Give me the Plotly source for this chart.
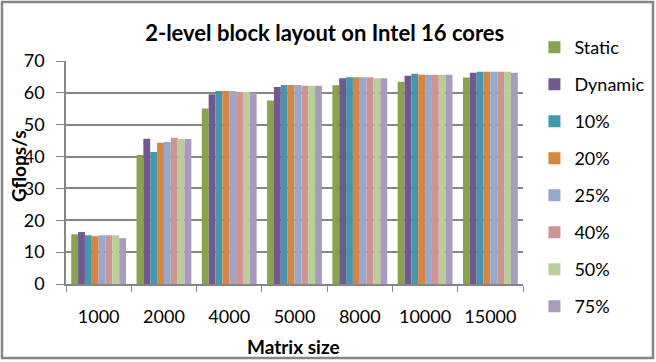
import plotly.graph_objects as go

sizes = ["1000", "2000", "4000", "5000", "8000", "10000", "15000"]
series_names = ["Static", "Dynamic", "10%", "20%", "25%", "40%", "50%", "75%"]

static = [15.6, 40.5, 55.1, 57.6, 62.4, 63.5, 64.8]
dynamic = [16.3, 45.6, 59.6, 61.8, 64.6, 65.4, 66.3]
p10 = [15.3, 41.4, 60.6, 62.5, 64.9, 66.0, 66.6]
p20 = [15.0, 44.3, 60.6, 62.5, 64.9, 65.7, 66.6]
p25 = [15.3, 44.6, 60.6, 62.5, 64.9, 65.7, 66.6]
p40 = [15.3, 45.9, 60.3, 62.2, 64.9, 65.7, 66.6]
p50 = [15.3, 45.5, 60.3, 62.2, 64.6, 65.7, 66.6]
p75 = [14.4, 45.5, 60.0, 62.2, 64.6, 65.7, 66.3]

colors = ["#88A44B", "#71588F", "#4198AF", "#DB843D",
          "#93A9CF", "#D19392", "#B9CD96", "#A99BBD"]

FONT = "Lato, Open Sans, sans-serif"
GREY = "#868686"

fig = go.Figure()
for name, vals, col in zip(series_names,
                           [static, dynamic, p10, p20, p25, p40, p50, p75],
                           colors):
    fig.add_trace(go.Bar(x=sizes, y=vals, name=name, marker_color=col,
                         marker_line_width=0, legendgroup=name))

fig.update_layout(
    width=656, height=362,
    margin=dict(l=66, r=133, t=61, b=78, autoexpand=False),
    paper_bgcolor="white", plot_bgcolor="white",
    barmode="group", bargap=0.16, bargroupgap=0,
    font=dict(family=FONT, size=18, color="black"),
    title=dict(text="<b>2-level block layout on Intel 16 cores</b>",
               x=0.495, xanchor="center", y=1 - 33 / 362, yanchor="middle",
               font=dict(size=22)),
    legend=dict(x=1.025, xanchor="left", y=1 + 32 / 223, yanchor="top",
                tracegroupgap=10.6, itemwidth=30, font=dict(size=18),
                maxheight=1),
    showlegend=True,
)
fig.update_xaxes(
    showline=True, linecolor=GREY, linewidth=1.5, automargin=False,
    ticks="outside", tickson="boundaries", ticklen=6, tickcolor=GREY,
    showgrid=False, tickfont=dict(size=18), ticklabelstandoff=16,
)
fig.update_yaxes(
    range=[0, 70], dtick=10, automargin=False,
    showline=True, linecolor=GREY, linewidth=1.5,
    ticks="outside", ticklen=8, tickcolor=GREY,
    showgrid=True, gridcolor=GREY, gridwidth=1.5, tickfont=dict(size=18),
    ticklabelstandoff=8,
)

# axis titles
fig.add_annotation(text="<b>Matrix size</b>", xref="paper", yref="paper",
                   x=(293 - 66) / 457, y=-(346 - 284) / 223,
                   showarrow=False, font=dict(size=19),
                   xanchor="center", yanchor="middle")
fig.add_annotation(text="<b>Gflops/s</b>", xref="paper", yref="paper",
                   x=-(66 - 18) / 457, y=(284 - 166) / 223, textangle=-90,
                   showarrow=False, font=dict(size=19),
                   xanchor="center", yanchor="middle")

# chart border
fig.add_shape(type="rect", xref="paper", yref="paper",
              x0=-64 / 457, x1=1 + 130 / 457, y0=-74 / 223, y1=1 + 59 / 223,
              line=dict(color=GREY, width=2.5))

fig.write_html("out.html", config={"displayModeBar": False},
               post_script="document.body.style.margin='0px';")
